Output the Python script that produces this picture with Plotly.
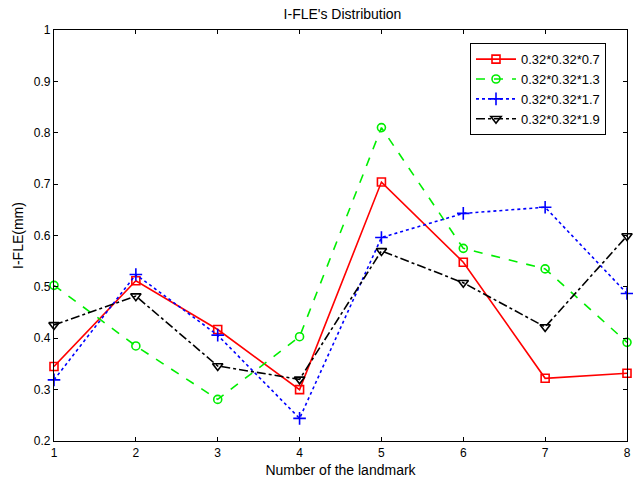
import plotly.graph_objects as go

landmarks = [1, 2, 3, 4, 5, 6, 7, 8]
s07 = [0.345, 0.512, 0.417, 0.300, 0.704, 0.548, 0.322, 0.332]
s13 = [0.503, 0.385, 0.281, 0.403, 0.810, 0.575, 0.535, 0.392]
s17 = [0.319, 0.524, 0.406, 0.244, 0.596, 0.643, 0.655, 0.487]
s19 = [0.426, 0.482, 0.346, 0.320, 0.570, 0.508, 0.422, 0.599]
names = ["0.32*0.32*0.7", "0.32*0.32*1.3", "0.32*0.32*1.7", "0.32*0.32*1.9"]
x_ticks = [1, 2, 3, 4, 5, 6, 7, 8]
y_ticks = [0.2, 0.3, 0.4, 0.5, 0.6, 0.7, 0.8, 0.9, 1.0]
y_tick_text = ["0.2", "0.3", "0.4", "0.5", "0.6", "0.7", "0.8", "0.9", "1"]

styles = [
    dict(color="#ff0000", dash="solid", symbol="square-open", size=8),
    dict(color="#00ee00", dash="dash", symbol="circle-open", size=8),
    dict(color="#0000ff", dash="dot", symbol="cross-thin-open", size=9),
    dict(color="#000000", dash="dashdot", symbol="triangle-down-open", size=9),
]

fig = go.Figure()
for name, ys, st in zip(names, [s07, s13, s17, s19], styles):
    fig.add_trace(go.Scatter(
        x=landmarks, y=ys, name=name, mode="lines+markers",
        line=dict(color=st["color"], dash=st["dash"], width=1.6),
        marker=dict(symbol=st["symbol"], size=st["size"], color=st["color"],
                    line=dict(color=st["color"], width=1.6)),
        cliponaxis=False,
    ))

axis_common = dict(
    showgrid=False, zeroline=False, showline=True, linecolor="black", linewidth=1.2,
    mirror="ticks", ticks="inside", ticklen=4, tickcolor="black",
    ticklabeloverflow="allow",
    tickfont=dict(family="Liberation Sans, Arial", size=12, color="black"),
)

fig.update_layout(
    width=633, height=479,
    paper_bgcolor="white", plot_bgcolor="white",
    margin=dict(l=54, r=2, t=30, b=38),
    font=dict(family="Liberation Sans, Arial", color="black"),
    title=dict(text="I-FLE's Distribution", x=(54 + 631) / 2 / 633, xanchor="center",
               y=1 - 14 / 479, yanchor="middle", font=dict(size=14, color="black")),
    xaxis=dict(range=[1, 8], tickvals=x_ticks,
               title=dict(text="Number of the landmark", font=dict(size=14), standoff=6),
               **axis_common),
    yaxis=dict(range=[0.2, 1.0], tickvals=y_ticks, ticktext=y_tick_text,
               title=dict(text="I-FLE(mm)", font=dict(size=14), standoff=6),
               **axis_common),
    legend=dict(x=0.726, y=0.968, xanchor="left", yanchor="top",
                bgcolor="white", bordercolor="black", borderwidth=1,
                font=dict(size=13, color="black"), itemwidth=40,
                tracegroupgap=4),
    showlegend=True,
)

fig.write_html("out.html", config={"displayModeBar": False},
               post_script="document.body.style.margin='0';document.body.style.overflow='hidden';")
